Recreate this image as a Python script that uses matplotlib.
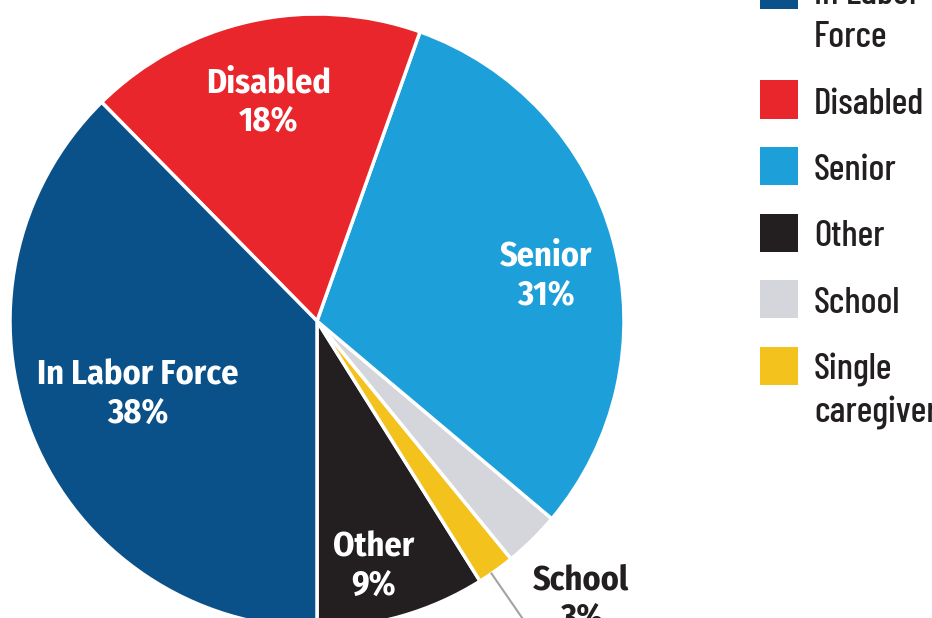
import numpy as np
import matplotlib
matplotlib.use("Agg")
import matplotlib.pyplot as plt
from matplotlib.patches import Rectangle

plt.rcParams['font.family'] = ['Fira Sans Condensed', 'IBM Plex Sans Condensed', 'DejaVu Sans']
LEG_FONT = ['Barlow Condensed', 'Roboto Condensed', 'Archivo Narrow', 'PT Sans Narrow',
            'Fira Sans Condensed', 'DejaVu Sans']

# data, in drawing order (counter-clockwise from the bottom)
labels = ["Other", "Single caregiver", "School", "Senior", "Disabled", "In Labor Force"]
shares = [9, 2, 3, 31, 18, 38]
colors = ["#231f20", "#f3c21d", "#d4d6dc", "#1d9fd9", "#e8262c", "#0b5189"]

# legend order (top to bottom)
legend_labels = ["In Labor\nForce", "Disabled", "Senior", "Other", "School", "Single\ncaregiver"]
legend_colors = ["#0b5189", "#e8262c", "#1d9fd9", "#231f20", "#d4d6dc", "#f3c21d"]

W, H = 932, 618
R = 307.0          # pie radius in pixels
cx, cy = 317, 321  # pie centre in pixels (from top-left)

fig = plt.figure(figsize=(W / 100, H / 100), dpi=100)
rend = fig.canvas.get_renderer()


def fit_size(word, weight, target, family=None):
    # font size that makes `word` about `target` pixels wide
    kw = {"family": family} if family else {}
    t = fig.text(0, 0, word, fontsize=20, fontweight=weight, **kw)
    w = t.get_window_extent(rend).width
    t.remove()
    return 20 * target / w


pie_fs = fit_size("Disabled", "bold", 125)
leg_fs = min(fit_size("Disabled", "medium", 111, LEG_FONT), 31)

ax = fig.add_axes([0, 0, 1, 1])
wedges, _ = ax.pie(shares, colors=colors, startangle=270, counterclock=True,
                   radius=1, wedgeprops=dict(edgecolor="white", linewidth=2.5))
ax.set_xlim(-cx / R, (W - cx) / R)
ax.set_ylim(-(H - cy) / R, cy / R)
ax.set_aspect("equal", adjustable="box")
ax.axis("off")


def mid(w):
    return np.deg2rad((w.theta1 + w.theta2) / 2)


# labels inside the pie: (index, radius fraction, angle shift)
inside = [(5, 0.63, 0), (4, 0.73, 0), (3, 0.76, -4), (0, 0.82, -3)]
for i, r, sh in inside:
    a = mid(wedges[i]) + np.deg2rad(sh)
    ax.text(r * np.cos(a), r * np.sin(a), "%s\n%d%%" % (labels[i], shares[i]),
            ha="center", va="center", color="white", fontsize=pie_fs,
            fontweight="bold", linespacing=1.18)

# School label outside, below right
a = mid(wedges[2]) - np.deg2rad(1)
ax.text(1.25 * np.cos(a), 1.25 * np.sin(a), "School\n%d%%" % shares[2],
        ha="center", va="center", color="#231f20", fontsize=pie_fs,
        fontweight="bold", linespacing=1.18)

# leader line for single caregiver (label is below the crop)
a = mid(wedges[1]) - np.deg2rad(1)
ax.plot([1.0 * np.cos(a), 1.6 * np.cos(a)], [1.0 * np.sin(a), 1.6 * np.sin(a)],
        color="#a3a3a3", lw=1.5)

# legend, drawn by hand so it can run off the top edge
y = -29.0
for lab, col in zip(legend_labels, legend_colors):
    lines = lab.split("\n")
    fig.patches.append(Rectangle((760 / W, 1 - (y + 38) / H), 38 / W, 38 / H,
                                 transform=fig.transFigure, color=col, lw=0))
    base = y + 19 + 14
    for k, ln in enumerate(lines):
        fig.text(814 / W, 1 - (base + 43 * k) / H, ln, ha="left", va="baseline",
                 fontsize=leg_fs, fontweight="medium", family=LEG_FONT,
                 color="#231f20")
    y += 66.5 + 43 * (len(lines) - 1)

fig.savefig("out.png", dpi=100)
